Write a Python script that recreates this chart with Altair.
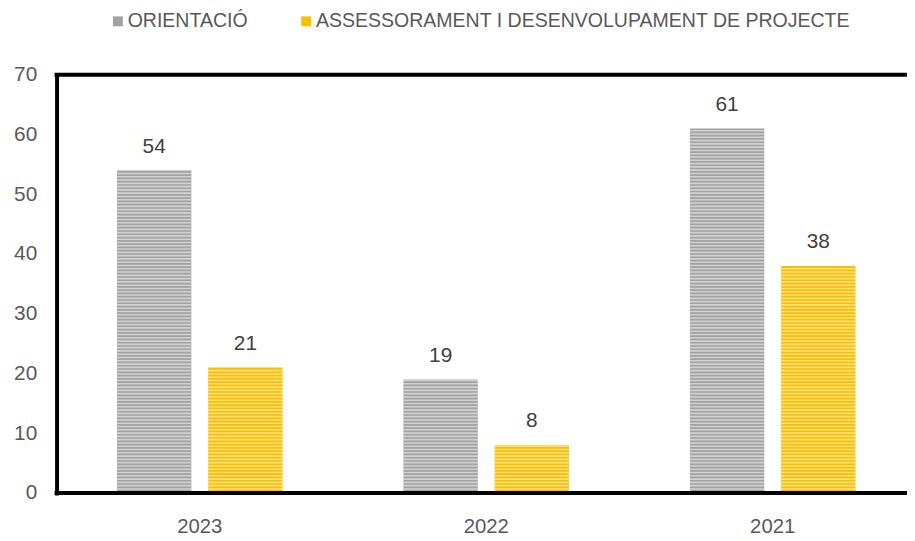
import altair as alt
import pandas as pd

years = ["2023", "2022", "2021"]
series = ["ORIENTACIÓ", "ASSESSORAMENT I DESENVOLUPAMENT DE PROJECTE"]
orientacio = [54, 19, 61]
assessorament = [21, 8, 38]
colors = ["#a2a2a2", "#f9bf00"]

rows = []
for i, yr in enumerate(years):
    rows.append({"year": yr, "serie": series[0], "value": orientacio[i]})
    rows.append({"year": yr, "serie": series[1], "value": assessorament[i]})
df = pd.DataFrame(rows)

W, H = 867, 422
FONT = "Liberation Sans"
LBL = "#595959"

x_scale = alt.Scale(paddingInner=0.422, paddingOuter=0.211)
xo_scale = alt.Scale(paddingInner=0.185, paddingOuter=0)
x_axis = alt.Axis(title=None, labelAngle=0, ticks=False, domain=False,
                  labelPadding=24, labelFont=FONT, labelFontSize=20.5,
                  labelColor=LBL, grid=False)
y_scale = alt.Scale(domain=[0, 70], nice=False, zero=True)
y_axis = alt.Axis(title=None, values=list(range(0, 71, 10)), ticks=False,
                  grid=False, domain=True, domainColor="black", domainWidth=4,
                  domainCap="square", labelPadding=20, labelFont=FONT,
                  labelFontSize=21, labelColor=LBL)


def xe():
    return alt.X("year:N", sort=years, scale=x_scale, axis=x_axis)


def xoe():
    return alt.XOffset("serie:N", sort=series, scale=xo_scale)


base = alt.Chart(df)

bars = base.mark_bar(strokeWidth=0).encode(
    x=xe(), xOffset=xoe(),
    y=alt.Y("value:Q", scale=y_scale, axis=y_axis),
    color=alt.Color(
        "serie:N", sort=series,
        scale=alt.Scale(domain=series, range=colors),
        legend=alt.Legend(
            orient="none", legendX=52, legendY=-64, direction="horizontal",
            columns=2, title=None, symbolType="square", symbolSize=100,
            symbolStrokeWidth=0, labelFontSize=19.7, labelFont=FONT,
            labelColor=LBL, columnPadding=49, labelOffset=0, labelLimit=0,
        ),
    ),
)

stripes = base.transform_calculate(
    s="sequence(0, datum.value - 0.2, 0.55)"
).transform_flatten(["s"]).transform_calculate(
    s2="datum.s + 0.27"
).mark_bar(color="white", opacity=0.5, strokeWidth=0).encode(
    x=xe(), xOffset=xoe(),
    y=alt.Y("s:Q", scale=y_scale, axis=y_axis), y2="s2:Q",
)

labels = base.mark_text(
    dy=-18, baseline="alphabetic", fontSize=21, font=FONT, color="#404040"
).encode(
    x=xe(), xOffset=xoe(),
    y=alt.Y("value:Q", scale=y_scale, axis=y_axis), text="value:Q",
)

border = alt.Chart(pd.DataFrame({"v": [0, 70]})).mark_rule(
    color="black", strokeWidth=4, strokeCap="square"
).encode(y=alt.Y("v:Q", scale=y_scale, axis=y_axis))

chart = alt.layer(bars, stripes, labels, border).properties(
    width=W, height=H,
    autosize=alt.AutoSizeParams(type="none"),
    padding={"left": 49, "top": 65, "right": -9, "bottom": 46},
).configure_view(stroke=None)

chart.save("out.html", embed_options={"renderer": "svg", "actions": False})
